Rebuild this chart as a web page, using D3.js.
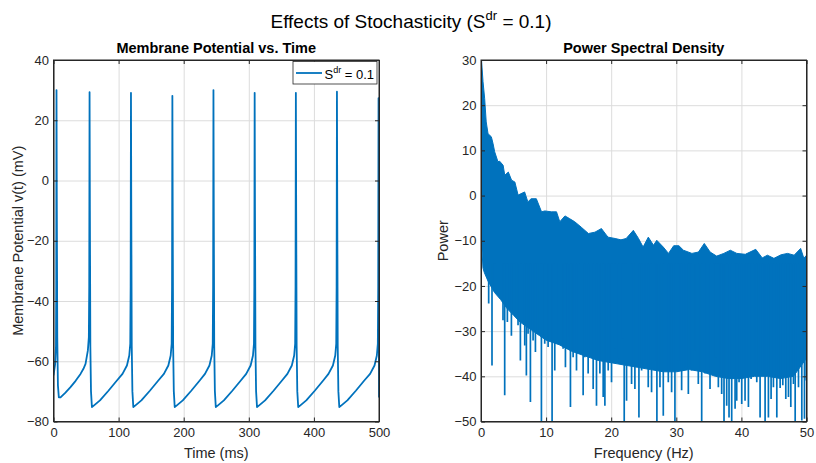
<!DOCTYPE html>
<html>
<head>
<meta charset="utf-8">
<script src="https://cdn.jsdelivr.net/npm/d3@7"></script>
<style>
    body { margin: 0; background: #fff; }
    svg { font-family: "Liberation Sans", Arial, sans-serif; }
    .grid line { stroke: #dcdcdc; stroke-width: 1; }
    .grid path { display: none; }
    .ax path, .ax line { stroke: #262626; }
    .ax text { fill: #262626; font-size: 13px; }
</style>
</head>
<body>
<svg id="chart" width="816" height="463"></svg>
<script>
// 膜电位 (time ms, voltage mV)
const vTime = [
    0, 2.5, 3.8, 4.2, 4.6,
    5.1, 5.8, 6.8, 8.2, 10.8, 18, 26.1, 34, 41.5, 46, 49.2, 52.8, 54.3, 54.9, 55.4,
    55.9, 56.6, 57.6, 59.0, 61.4, 71.4, 84.4, 97.4, 106.0, 112.8, 116.4, 117.9, 118.5, 119.0,
    119.5, 120.2, 121.2, 122.6, 125.0, 135.0, 148.0, 161.0, 169.6, 176.4, 180.0, 181.5, 182.1, 182.6,
    183.1, 183.8, 184.8, 186.2, 188.6, 198.6, 211.6, 224.6, 232.7, 239.5, 243.1, 244.6, 245.2, 245.7,
    246.2, 246.9, 247.9, 249.3, 251.7, 261.7, 274.7, 287.7, 296.0, 302.8, 306.4, 307.9, 308.5, 309.0,
    309.5, 310.2, 311.2, 312.6, 315.0, 325.0, 338.0, 351.0, 359.3, 366.1, 369.7, 371.2, 371.8, 372.3,
    372.8, 373.5, 374.5, 375.9, 378.3, 388.3, 401.3, 414.3, 422.4, 429.2, 432.8, 434.3, 434.9, 435.4,
    435.9, 436.6, 437.6, 439.0, 441.4, 451.4, 464.4, 477.4, 486.3, 493.1, 496.7, 498.2, 498.8, 499.3,
    500
];
const vMem = [
    -64.7, -61, -55, -35, 30.0,
    -10, -52, -68, -72, -72, -70.5, -68.6, -66.5, -64.2, -62.5, -60.9, -56.4, -52, -35, 29.3,
    -10, -55, -70, -75.2, -74.8, -73, -69.8, -66.4, -64.2, -61.4, -58.1, -54.2, -35, 29.1,
    -10, -55, -70, -75.2, -74.8, -73, -69.8, -66.4, -64.2, -61.4, -58.1, -54.2, -35, 28.1,
    -10, -55, -70, -75.2, -74.8, -73, -69.8, -66.4, -64.2, -61.4, -58.1, -54.2, -35, 30.0,
    -10, -55, -70, -75.2, -74.8, -73, -69.8, -66.4, -64.2, -61.4, -58.1, -54.2, -35, 29.1,
    -10, -55, -70, -75.2, -74.8, -73, -69.8, -66.4, -64.2, -61.4, -58.1, -54.2, -35, 29.1,
    -10, -55, -70, -75.2, -74.8, -73, -69.8, -66.4, -64.2, -61.4, -58.1, -54.2, -35, 29.5,
    -10, -55, -70, -75.2, -74.8, -73, -69.8, -66.4, -64.2, -61.4, -58.1, -54.2, -35, 27.3,
    -72
];

// PSD 上包络 (Hz, power)
const upFreq = [
    0, 0.08, 0.31, 0.56, 0.8, 1.08, 1.59, 1.85, 2.1, 2.6, 2.87, 3.4, 3.65, 4.2, 4.7, 5.2, 5.7,
    6.7, 7.2, 7.7, 8.5, 9.3, 9.8, 10.8, 11.6, 12.1, 12.9, 13.6, 14.4, 15.4, 16.5, 17.5, 18.5,
    19.5, 20.6, 21.5, 22.3, 23.4, 24.2, 24.9, 25.7, 26.5, 27.0, 28.0, 28.8, 29.6, 30.4, 31.1,
    32.4, 33.4, 34.3, 35.2, 36.2, 37.3, 38.3, 39.3, 40.6, 42.2, 43.2, 44.0, 45.0, 46.1, 47.1,
    48.1, 49.1, 49.6, 50.0
];
const upPow = [
    2.7, 30, 25.2, 21.5, 16.3, 13.7, 13.0, 11.5, 9.7, 7.5, 7.6, 6.7, 4.5, 5.2, 3.4, 3.0, 0.1,
    0.8, -1.4, -0.7, -0.7, -3.6, -3.4, -3.6, -3.6, -5.8, -4.5, -5.1, -5.8, -7.0, -8.4, -8.1, -7.3,
    -9.2, -9.5, -9.8, -9.5, -7.7, -9.5, -11.4, -9.2, -11.0, -9.9, -11.4, -12.8, -11.1, -11.1, -12.1,
    -12.8, -12.5, -10.6, -12.5, -13.4, -12.8, -12.1, -12.8, -13.0, -11.9, -13.8, -13.2, -13.9, -13.1, -12.8,
    -13.2, -11.7, -13.9, -13.2
];
// PSD 下边界 of the dense band
const loFreq = [0, 0.08, 0.3, 0.5, 1.1, 2.1, 3, 4, 5, 6, 7, 8, 9, 10, 12, 14, 16, 18, 20, 22, 24, 26, 28, 30, 32, 34, 36, 38, 40, 42, 44, 46, 48, 50];
const loPow = [2.7, -10, -16, -17, -19, -21.5, -23, -25, -26.5, -28, -29, -30, -31, -32, -33, -34.5, -35.5, -36.5, -37, -37.5, -38, -38.5, -39, -39, -38.5, -39, -40, -40.5, -40.5, -40, -40, -40.5, -40, -36];
// deep downward dips
const dipFreq = [
    1.18, 1.69, 2.10, 3.38, 3.64, 4.05, 4.67, 5.18, 5.69, 6.05, 6.72, 6.97, 7.23, 7.59, 8.0, 8.36, 8.77, 9.28,
    9.79, 10.31, 10.92, 11.33, 11.85, 12.61, 12.97, 13.28, 13.74, 14.15, 14.67, 15.18, 15.69, 15.95, 16.46,
    17.23, 17.74, 18.26, 18.77, 19.03, 19.54, 20.05, 20.56, 21.08, 21.69, 22.0, 22.36, 23.13, 23.64, 24.26,
    24.67, 25.18, 25.69, 26.2, 26.72, 27.02, 27.49, 28.0, 28.77, 29.28, 29.79, 30.31, 30.82, 31.33, 31.85,
    32.36, 32.87, 33.38, 33.9, 34.41, 35.18, 35.69, 36.05, 36.46, 36.97, 37.33, 37.74, 38.1, 38.51, 39.03,
    39.28, 39.64, 40.05, 40.56, 41.08, 41.49, 41.85, 42.36, 42.87, 43.23, 43.64, 44.15, 44.56, 44.92, 45.44,
    45.95, 46.36, 46.82, 47.23, 47.59, 48.0, 48.26, 48.77, 49.28, 49.69, 49.95
];
const dipPow = [
    -23.9, -37.6, -21.3, -27.6, -44.2, -28.0, -31.0, -25.4, -28.7, -36.5, -33.2, -39.8, -30.6, -45.7, -32.1, -34.6, -30.2, -51,
    -32.8, -33.5, -51, -38.7, -31.7, -33.9, -38.0, -31.3, -46.8, -35.8, -38.7, -33.5, -44.2, -35.8, -39.4,
    -42.8, -46.5, -39.4, -44.6, -46.5, -38.7, -41.3, -33.9, -36.1, -31.7, -51, -45.4, -41.7, -42.8, -49.1,
    -38.7, -36.5, -42.4, -43.5, -36.5, -51, -42.4, -48.7, -41.3, -43.5, -51, -36.5, -43.1, -38.0, -43.9,
    -38.7, -34.3, -41.7, -51, -39.4, -42.8, -39.4, -35.8, -42.4, -43.9, -51, -46.5, -49.1, -51, -47.2,
    -45.4, -41.3, -46.1, -45.4, -46.8, -40.6, -38.7, -41.3, -49.1, -38.7, -51, -49.1, -45.0, -42.4, -49.1,
    -42.6, -42.0, -45.0, -44.6, -46.8, -41.7, -51, -42.4, -49.8, -49.4, -40.9
];

const timeTicks = [0, 100, 200, 300, 400, 500];
const voltTicks = [-80, -60, -40, -20, 0, 20, 40];
const freqTicks = [0, 10, 20, 30, 40, 50];
const powTicks = [-50, -40, -30, -20, -10, 0, 10, 20, 30];

const blue = "#0072BD";
const svg = d3.select("#chart");
svg.append("rect").attr("width", 816).attr("height", 463).attr("fill", "#fff");

// 总标题
const title = svg.append("text")
    .attr("x", 411).attr("y", 28)
    .attr("text-anchor", "middle")
    .attr("font-size", 19).attr("fill", "#000");
title.append("tspan").text("Effects of Stochasticity (S");
title.append("tspan").attr("font-size", 13).attr("dy", -8).text("dr");
title.append("tspan").attr("dy", 8).text(" = 0.1)");

function drawAxes(id, left, right, xDom, yDom, xT, yT, ttl, xl, yl, ylX) {
    const top = 60, bottom = 421.5;
    const w = right - left, h = bottom - top;
    const x = d3.scaleLinear().domain(xDom).range([0, w]);
    const y = d3.scaleLinear().domain(yDom).range([h, 0]);
    const g = svg.append("g").attr("transform", `translate(${left},${top})`);

    g.append("rect").attr("width", w).attr("height", h).attr("fill", "#fff");

    // 网格
    g.append("g").attr("class", "grid")
        .attr("transform", `translate(0,${h})`)
        .call(d3.axisBottom(x).tickValues(xT).tickSize(-h).tickFormat(""));
    g.append("g").attr("class", "grid")
        .call(d3.axisLeft(y).tickValues(yT).tickSize(-w).tickFormat(""));

    g.append("clipPath").attr("id", "clip" + id)
        .append("rect").attr("width", w).attr("height", h);
    const plot = g.append("g").attr("clip-path", `url(#clip${id})`);

    // 坐标轴
    g.append("g").attr("class", "ax")
        .attr("transform", `translate(0,${h})`)
        .call(d3.axisBottom(x).tickValues(xT).tickSize(-4).tickPadding(6).tickSizeOuter(0));
    g.append("g").attr("class", "ax")
        .call(d3.axisTop(x).tickValues(xT).tickSize(-4).tickFormat("").tickSizeOuter(0));
    g.append("g").attr("class", "ax")
        .call(d3.axisLeft(y).tickValues(yT).tickSize(-4).tickPadding(4.5).tickSizeOuter(0));
    g.append("g").attr("class", "ax")
        .attr("transform", `translate(${w},0)`)
        .call(d3.axisRight(y).tickValues(yT).tickSize(-4).tickFormat("").tickSizeOuter(0));

    g.append("text").attr("x", w / 2).attr("y", -7)
        .attr("text-anchor", "middle").attr("font-weight", "bold")
        .attr("font-size", 14.5).attr("fill", "#000").text(ttl);
    g.append("text").attr("x", w / 2).attr("y", h + 36)
        .attr("text-anchor", "middle").attr("font-size", 14.5)
        .attr("fill", "#262626").text(xl);
    g.append("text")
        .attr("transform", `translate(${ylX},${h / 2}) rotate(-90)`)
        .attr("text-anchor", "middle").attr("font-size", 14.5)
        .attr("fill", "#262626").text(yl);

    return { g, plot, x, y, w, h };
}

// 左图
const A = drawAxes(1, 53.5, 379, [0, 500], [-80, 40], timeTicks, voltTicks,
    "Membrane Potential vs. Time", "Time (ms)", "Membrane Potential v(t) (mV)", -31);

const trace = vTime.map((t, i) => ({ t, v: vMem[i] }));
A.plot.append("path")
    .datum(trace)
    .attr("fill", "none")
    .attr("stroke", blue)
    .attr("stroke-width", 1.8)
    .attr("stroke-linejoin", "round")
    .attr("d", d3.line().x((d) => A.x(d.t)).y((d) => A.y(d.v)));

// 图例
const lg = A.g.append("g").attr("transform", `translate(${A.w - 86},1.5)`);
lg.append("rect").attr("width", 84).attr("height", 22.5)
    .attr("fill", "#fff").attr("stroke", "#262626").attr("stroke-width", 0.8);
lg.append("line").attr("x1", 3).attr("x2", 29).attr("y1", 11.5).attr("y2", 11.5)
    .attr("stroke", blue).attr("stroke-width", 1.8);
const lt = lg.append("text").attr("x", 31.5).attr("y", 17.5)
    .attr("font-size", 13).attr("fill", "#000");
lt.append("tspan").text("S");
lt.append("tspan").attr("font-size", 9).attr("dy", -6).text("dr");
lt.append("tspan").attr("dy", 6).text(" = 0.1");

// 右图
const B = drawAxes(2, 481, 806.5, [0, 50], [-50, 30], freqTicks, powTicks,
    "Power Spectral Density", "Frequency (Hz)", "Power", -33);

const band = upFreq.map((f, i) => ({ f, p: upPow[i] }))
    .concat(loFreq.map((f, i) => ({ f, p: loPow[i] })).reverse());
const bandLine = d3.line().x((d) => B.x(d.f)).y((d) => B.y(d.p));
B.plot.append("path")
    .datum(band)
    .attr("fill", blue)
    .attr("stroke", blue)
    .attr("stroke-width", 1)
    .attr("d", (d) => bandLine(d) + "Z");

B.plot.selectAll(".dip")
    .data(dipFreq.map((f, i) => ({ f, p: dipPow[i] })))
    .enter()
    .append("line")
    .attr("class", "dip")
    .attr("x1", (d) => B.x(d.f)).attr("x2", (d) => B.x(d.f))
    .attr("y1", B.y(-15)).attr("y2", (d) => B.y(d.p))
    .attr("stroke", blue).attr("stroke-width", 1.7);

// axes box lines drawn over data
[A, B].forEach((P) => {
    P.g.append("rect").attr("width", P.w).attr("height", P.h)
        .attr("fill", "none").attr("stroke", "#262626").attr("stroke-width", 1);
});
</script>
</body>
</html>
